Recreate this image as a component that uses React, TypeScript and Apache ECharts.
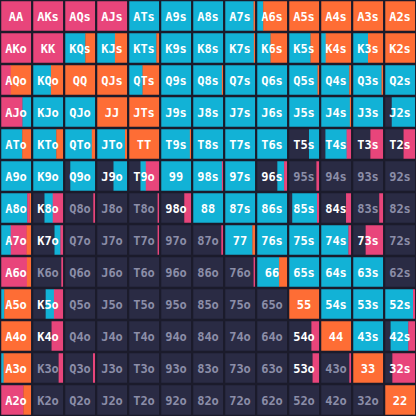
import React, { useEffect, useRef } from "react";
import * as echarts from "echarts";

const ranks = ["A", "K", "Q", "J", "T", "9", "8", "7", "6", "5", "4", "3", "2"];

// Each cell: sequence of action letter + percent, drawn left to right.
// f = fold, c = call, r = raise, o = all-in
const row0 = ["r100", "r100", "r100", "r100", "c100", "c100", "c100", "c96o4", "c20o80", "o100", "o100", "o100", "o100"];
const row1 = ["r100", "r100", "c68o32", "c60o40", "c92o8", "c100", "c100", "c97o3", "c45o55", "c72o28", "c15o85", "c50o50", "o100"];
const row2 = ["r32o68", "c60o40", "o100", "o100", "c45o55", "c100", "c97o3", "c100", "c100", "c96o4", "c95o5", "c96o4", "c100"];
const row3 = ["r72c28", "c100", "c100", "o100", "o100", "c100", "c100", "c100", "c100", "c100", "c97o3", "c100", "f22c78"];
const row4 = ["c71o29", "c78o22", "c90o10", "c94o6", "o100", "c97o3", "c100", "c100", "c100", "f67c33", "f14c72r14", "f58r42", "f62r38"];
const row5 = ["c100", "c100", "f17c83", "f55c45", "f38c18r44", "c100", "c97r3", "c100", "f68c23r9", "f92r8", "f100", "f100", "f100"];
const row6 = ["c88r8o4", "f38c28r34", "f95r5", "f100", "f96r4", "f78r22", "c100", "c100", "c100", "f10c84r6", "f84r16", "f88r12", "f100"];
const row7 = ["c32r54o14", "f72c20r8", "f100", "f100", "f96r4", "f100", "f95r5", "c92o8", "c100", "c100", "c92r8", "f42r58", "f100"];
const row8 = ["r87o13", "f95r5", "f100", "f100", "f100", "f100", "f100", "f96r4", "c74o26", "c100", "c100", "c100", "f100"];
const row9 = ["c10o90", "f42c28r30", "f100", "f100", "f100", "f100", "f100", "f100", "f100", "o100", "c100", "c100", "c94r6"];
const row10 = ["o100", "f62r38", "f100", "f100", "f100", "f100", "f100", "f100", "f100", "f75r25", "o100", "c100", "f18c60r22"];
const row11 = ["c8o92", "f86r14", "f94r6", "f100", "f100", "f100", "f100", "f100", "f100", "f79r21", "f95r5", "o100", "f24r76"];
const row12 = ["r75o25", "f100", "f100", "f100", "f100", "f100", "f100", "f100", "f100", "f100", "f100", "f100", "o100"];

const rows = [row0, row1, row2, row3, row4, row5, row6, row7, row8, row9, row10, row11, row12];

const actionColors: Record<string, string> = {
  f: "#2a2b44",
  c: "#12b2d6",
  r: "#e8457b",
  o: "#fe6d35",
};

function parseCell(s: string): [string, number][] {
  const out: [string, number][] = [];
  const re = /([fcro])(\d+)/g;
  let m: RegExpExecArray | null;
  while ((m = re.exec(s))) out.push([m[1], Number(m[2])]);
  return out;
}

function handLabel(r: number, c: number): string {
  if (r === c) return ranks[r] + ranks[c];
  if (c > r) return ranks[r] + ranks[c] + "s";
  return ranks[c] + ranks[r] + "o";
}

const cells: { row: number; col: number; segs: [string, number][]; label: string }[] = [];
rows.forEach((rw, r) =>
  rw.forEach((s, c) => cells.push({ row: r, col: c, segs: parseCell(s), label: handLabel(r, c) }))
);

export default function App() {
  const ref = useRef<HTMLDivElement>(null);
  useEffect(() => {
    if (!ref.current) return;
    const chart = echarts.init(ref.current, undefined, { renderer: "svg" });
    chart.setOption({
      animation: false,
      backgroundColor: "#1b1b2b",
      grid: { left: 0, right: 0, top: 0, bottom: 0 },
      xAxis: { type: "category", data: ranks, show: false },
      yAxis: { type: "category", data: ranks, inverse: true, show: false },
      series: [
        {
          type: "custom",
          data: cells.map((c, i) => [c.col, c.row, i]),
          renderItem: (params: any, api: any) => {
            const cell = cells[api.value(2)];
            const center = api.coord([api.value(0), api.value(1)]);
            const size = api.size([1, 1]);
            const gap = 2.5;
            const w = size[0] - gap;
            const h = size[1] - gap;
            const x0 = center[0] - w / 2;
            const y0 = center[1] - h / 2;
            const children: any[] = [];
            let x = x0;
            let fold = 0;
            cell.segs.forEach(([a, p]) => {
              const sw = (w * p) / 100;
              if (a === "f") fold += p;
              children.push({
                type: "rect",
                shape: { x, y: y0, width: sw + 0.3, height: h },
                style: { fill: actionColors[a] },
              });
              x += sw;
            });
            const dim = fold > 85;
            children.push({
              type: "text",
              x: center[0],
              y: center[1] + 0.5,
              style: {
                text: cell.label,
                fill: dim ? "#8c8ea8" : "#ffffff",
                font: "bold 12px 'DejaVu Sans Mono'",
                align: "center",
                verticalAlign: "middle",
                textShadowColor: "rgba(20,20,35,0.85)",
                textShadowOffsetX: 1,
                textShadowOffsetY: 1,
                textShadowBlur: 0,
              },
            });
            return { type: "group", children };
          },
        },
      ],
    });
    return () => chart.dispose();
  }, []);
  return (
    <div
      ref={ref}
      style={{ position: "absolute", left: 0, top: 0, width: 416, height: 416 }}
    />
  );
}
